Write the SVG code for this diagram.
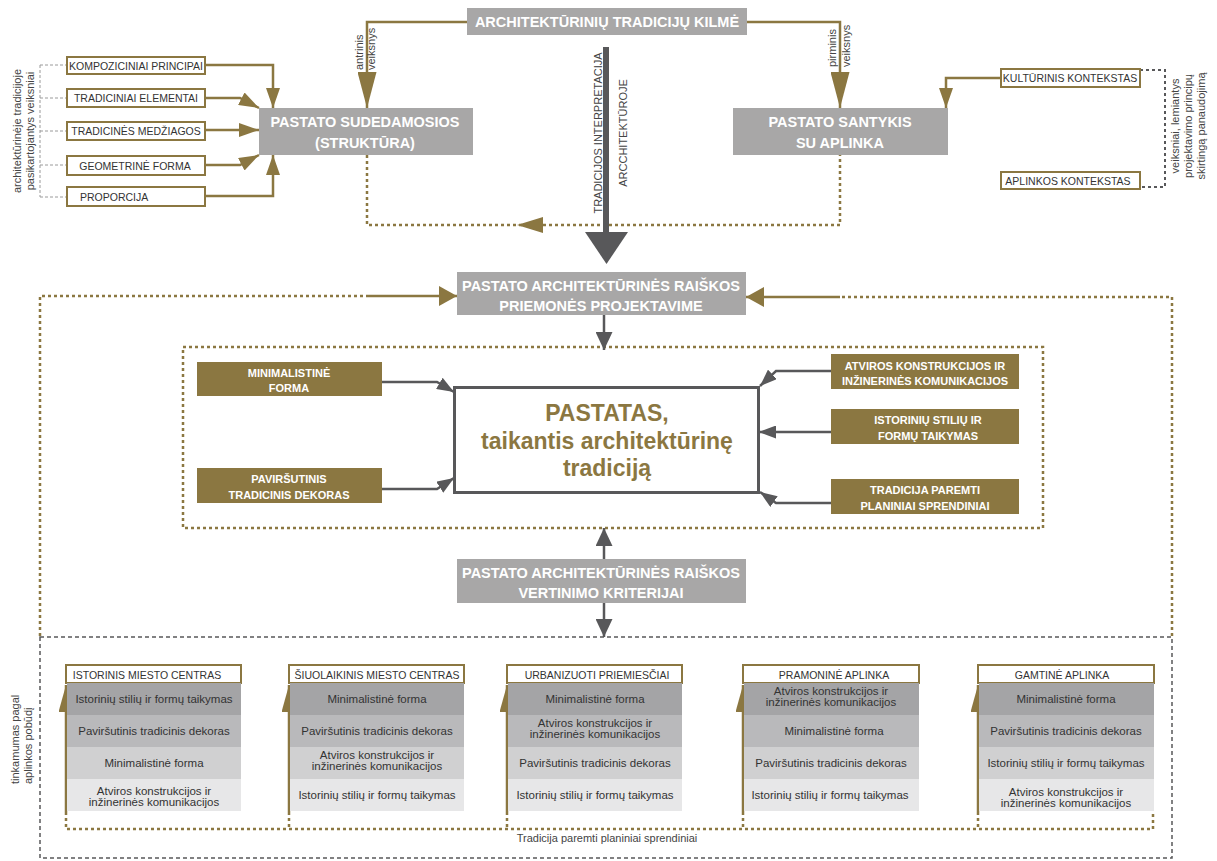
<svg xmlns="http://www.w3.org/2000/svg" width="1217" height="861" viewBox="0 0 1217 861">
<defs>
<style>
text{font-family:"Liberation Sans",Arial,sans-serif}
.gb{fill:#a8a7a7}
.gt{font-weight:bold;font-size:14.5px;fill:#fff;text-anchor:middle}
.au{fill:#8b7741}
.aut{font-weight:bold;font-size:11px;fill:#fff;text-anchor:middle}
.ob{fill:#fff;stroke:#8b7741;stroke-width:2}
.ot{font-size:10.5px;fill:#333}
.rt{font-size:11.5px;fill:#333;text-anchor:middle}
.vt{font-size:11px;fill:#444}
.ln{fill:none;stroke:#8b7741;stroke-width:2.5}
.ld{fill:none;stroke:#58585a;stroke-width:2.5}
.dg{fill:none;stroke:#8b7741;stroke-width:2.5;stroke-dasharray:3 3}
.dk{fill:none;stroke:#58585a;stroke-width:1.5;stroke-dasharray:4 3}
.dl{fill:none;stroke:#9a9a9a;stroke-width:1;stroke-dasharray:3 2}
.r1{fill:#a4a4a6}.r2{fill:#b9b9bb}.r3{fill:#d0d0d1}.r4{fill:#e7e7e8}
</style>
<marker id="mg" markerUnits="userSpaceOnUse" markerWidth="20" markerHeight="14" refX="20" refY="7" orient="auto"><path d="M0,0 L20,7 L0,14 z" fill="#8b7741"/></marker>
<marker id="mgL" markerUnits="userSpaceOnUse" markerWidth="36" markerHeight="19" refX="36" refY="9.5" orient="auto"><path d="M0,0 L36,9.5 L0,19 z" fill="#8b7741"/></marker>
<marker id="mgM" markerUnits="userSpaceOnUse" markerWidth="18" markerHeight="20" refX="18" refY="10" orient="auto"><path d="M0,0 L18,10 L0,20 z" fill="#8b7741"/></marker>
<marker id="mgC" markerUnits="userSpaceOnUse" markerWidth="27" markerHeight="15" refX="27" refY="7.5" orient="auto"><path d="M0,0 L27,7.5 L0,15 z" fill="#8b7741"/></marker>
<marker id="md" markerUnits="userSpaceOnUse" markerWidth="18" markerHeight="17" refX="18" refY="8.5" orient="auto"><path d="M0,0 L18,8.5 L0,17 z" fill="#58585a"/></marker>
<marker id="mds" markerUnits="userSpaceOnUse" markerWidth="17" markerHeight="13" refX="17" refY="6.5" orient="auto"><path d="M0,0 L17,6.5 L0,13 z" fill="#58585a"/></marker>
</defs>
<rect width="1217" height="861" fill="#fff"/>

<g id="connectors">
  <path class="dl" d="M40,65 V197 M40,65 H67 M40,98 H67 M40,131 H67 M40,165 H67 M40,197 H67"/>
  <path d="M1140,70 H1165 V187 H1140" fill="none" stroke="#58585a" stroke-width="2" stroke-dasharray="3 3"/>
  <path class="ln" d="M205,65 H273 V108" marker-end="url(#mg)"/>
  <path class="ln" d="M205,98 H240 L259,108" marker-end="url(#mg)"/>
  <path class="ln" d="M205,130 H259" marker-end="url(#mg)"/>
  <path class="ln" d="M205,165 H240 L259,155" marker-end="url(#mg)"/>
  <path class="ln" d="M205,196 H273 V155" marker-end="url(#mg)"/>
  <path class="ln" d="M1001,78 H946 V108" marker-end="url(#mg)"/>
  <path class="ln" stroke-width="3" d="M467,22 H367 V108" marker-end="url(#mgL)"/>
  <path class="ln" stroke-width="3" d="M747,22 H840 V108" marker-end="url(#mgL)"/>
  <path class="dg" stroke-width="3" d="M367,155 V225 H840 V155"/>
  <polygon points="517,225 543,217 543,233" fill="#8b7741"/>
  <rect x="603" y="47" width="6" height="187" fill="#58585a"/>
  <polygon points="585,232 628,232 606.5,264" fill="#58585a"/>
  <path class="dg" d="M40,636 V296 H368"/>
  <path class="ln" stroke-width="3" d="M368,296 H457" marker-end="url(#mgM)"/>
  <path class="dg" d="M1172,636 V297 H840"/>
  <path class="ln" stroke-width="3" d="M840,297 H746" marker-end="url(#mgM)"/>
  <rect class="dg" x="183" y="347" width="860" height="181"/>
  <path class="ld" d="M604,315 V350" marker-end="url(#md)"/>
  <path class="ld" stroke-width="2" d="M382,382 H437 L454,392" marker-end="url(#mds)"/>
  <path class="ld" stroke-width="2" d="M382,489 H437 L454,478" marker-end="url(#mds)"/>
  <path class="ld" stroke-width="2" d="M831,371 H776 L760,386" marker-end="url(#mds)"/>
  <path class="ld" stroke-width="2" d="M831,432 H759" marker-end="url(#mds)"/>
  <path class="ld" stroke-width="2" d="M831,503 H776 L760,492" marker-end="url(#mds)"/>
  <path class="ld" d="M604,559 V528" marker-end="url(#md)"/>
  <path class="ld" d="M604,603 V637" marker-end="url(#md)"/>
  <rect class="dk" x="40" y="637" width="1132" height="221"/>
  <path class="dg" stroke-width="2" d="M66,812 V829 H1153 V812 M289,812 V829 M507,812 V829 M743,812 V829 M978,812 V829"/>
  <path class="ln" d="M66,812 V685" marker-end="url(#mgC)"/>
  <path class="ln" d="M289,812 V685" marker-end="url(#mgC)"/>
  <path class="ln" d="M507,812 V685" marker-end="url(#mgC)"/>
  <path class="ln" d="M743,812 V685" marker-end="url(#mgC)"/>
  <path class="ln" d="M978,812 V685" marker-end="url(#mgC)"/>
</g>

<g id="labels">
  <text class="vt" font-size="11.5" text-anchor="middle" transform="translate(21,131) rotate(-90)">architektūrinėje tradicijoje</text>
  <text class="vt" font-size="11.5" text-anchor="middle" transform="translate(34,131) rotate(-90)">pasikartojantys veiksniai</text>
  <text class="vt" font-size="12" transform="translate(363,70) rotate(-90)">antrinis</text>
  <text class="vt" font-size="12" transform="translate(375,70) rotate(-90)">veiksnys</text>
  <text class="vt" font-size="12" transform="translate(836,67) rotate(-90)">pirminis</text>
  <text class="vt" font-size="12" transform="translate(850,67) rotate(-90)">veiksnys</text>
  <text class="vt" text-anchor="middle" transform="translate(602,133) rotate(-90)">TRADICIJOS INTERPRETACIJA</text>
  <text class="vt" text-anchor="middle" transform="translate(627,133) rotate(-90)">ARCCHITEKTŪROJE</text>
  <text class="vt" text-anchor="middle" transform="translate(1179,126) rotate(-90)">veiksniai, lemiantys</text>
  <text class="vt" text-anchor="middle" transform="translate(1192,126) rotate(-90)">projektavimo principų</text>
  <text class="vt" text-anchor="middle" transform="translate(1205,126) rotate(-90)">skirtingą panaudojimą</text>
  <text class="vt" font-size="11.5" transform="translate(19,784) rotate(-90)">tinkamumas pagal</text>
  <text class="vt" font-size="11.5" transform="translate(32,784) rotate(-90)">aplinkos pobūdį</text>
  <text class="vt" text-anchor="middle" x="607" y="842">Tradicija paremti planiniai sprendiniai</text>
</g>

<g id="n-kilme"><rect class="gb" x="467" y="8" width="280" height="27"/><text class="gt" x="607" y="27">ARCHITEKTŪRINIŲ TRADICIJŲ KILMĖ</text></g>
<g id="n-sudedamosios"><rect class="gb" x="259" y="108" width="214" height="47"/><text class="gt" x="365" y="127">PASTATO SUDEDAMOSIOS</text><text class="gt" x="365" y="148">(STRUKTŪRA)</text></g>
<g id="n-santykis"><rect class="gb" x="733" y="108" width="215" height="47"/><text class="gt" x="840" y="127">PASTATO SANTYKIS</text><text class="gt" x="840" y="148">SU APLINKA</text></g>

<g id="n-kompoziciniai"><rect class="ob" x="67" y="57" width="138" height="17"/><text class="ot" x="136" y="69.5" text-anchor="middle">KOMPOZICINIAI PRINCIPAI</text></g>
<g id="n-elementai"><rect class="ob" x="67" y="89" width="138" height="18"/><text class="ot" x="136" y="102" text-anchor="middle">TRADICINIAI ELEMENTAI</text></g>
<g id="n-medziagos"><rect class="ob" x="67" y="122" width="138" height="18"/><text class="ot" x="136" y="135" text-anchor="middle">TRADICINĖS MEDŽIAGOS</text></g>
<g id="n-geometrine"><rect class="ob" x="67" y="156" width="138" height="19"/><text class="ot" x="135" y="169.5" text-anchor="middle">GEOMETRINĖ FORMA</text></g>
<g id="n-proporcija"><rect class="ob" x="67" y="187" width="138" height="19"/><text class="ot" x="80" y="201">PROPORCIJA</text></g>

<g id="n-kulturinis"><rect class="ob" x="1001" y="69" width="139" height="18"/><text class="ot" x="1070" y="82" text-anchor="middle">KULTŪRINIS KONTEKSTAS</text></g>
<g id="n-aplinkos"><rect class="ob" x="1001" y="172" width="139" height="17"/><text class="ot" x="1068" y="184.5" text-anchor="middle">APLINKOS KONTEKSTAS</text></g>

<g id="n-priemones"><rect class="gb" x="457" y="272" width="289" height="43"/><text class="gt" x="601" y="291">PASTATO ARCHITEKTŪRINĖS RAIŠKOS</text><text class="gt" x="601" y="311">PRIEMONĖS PROJEKTAVIME</text></g>

<g id="n-pastatas"><rect x="454.5" y="387.5" width="304" height="105" fill="#fff" stroke="#58585a" stroke-width="3"/>
<text x="607" y="421" text-anchor="middle" font-weight="bold" font-size="23" fill="#8b7741">PASTATAS,</text>
<text x="607" y="449" text-anchor="middle" font-weight="bold" font-size="23" fill="#8b7741">taikantis architektūrinę</text>
<text x="607" y="476" text-anchor="middle" font-weight="bold" font-size="23" fill="#8b7741">tradiciją</text></g>

<g id="n-minimalistine"><rect class="au" x="197" y="362" width="185" height="34"/><text class="aut" x="289" y="377">MINIMALISTINĖ</text><text class="aut" x="289" y="392">FORMA</text></g>
<g id="n-pavirsutinis"><rect class="au" x="197" y="468" width="185" height="35"/><text class="aut" x="289" y="483">PAVIRŠUTINIS</text><text class="aut" x="289" y="499">TRADICINIS DEKORAS</text></g>
<g id="n-atviros"><rect class="au" x="831" y="354" width="188" height="35"/><text class="aut" x="925" y="369.5">ATVIROS KONSTRUKCIJOS IR</text><text class="aut" x="925" y="385">INŽINERINĖS KOMUNIKACIJOS</text></g>
<g id="n-istoriniu"><rect class="au" x="831" y="409" width="188" height="35"/><text class="aut" x="928" y="424">ISTORINIŲ STILIŲ IR</text><text class="aut" x="928" y="440">FORMŲ TAIKYMAS</text></g>
<g id="n-tradicija"><rect class="au" x="831" y="479" width="188" height="35"/><text class="aut" x="925" y="494">TRADICIJA PAREMTI</text><text class="aut" x="925" y="510">PLANINIAI SPRENDINIAI</text></g>

<g id="n-vertinimo"><rect class="gb" x="457" y="559" width="289" height="44"/><text class="gt" x="601" y="578">PASTATO ARCHITEKTŪRINĖS RAIŠKOS</text><text class="gt" x="601" y="598">VERTINIMO KRITERIJAI</text></g>

<g id="n-col1">
<rect class="ob" x="66" y="665" width="175" height="18"/><text class="ot" x="147" y="678.5" text-anchor="middle">ISTORINIS MIESTO CENTRAS</text>
<rect class="r1" x="67" y="683" width="174" height="32"/><text class="rt" x="154" y="703">Istorinių stilių ir formų taikymas</text>
<rect class="r2" x="67" y="715" width="174" height="32"/><text class="rt" x="154" y="735">Paviršutinis tradicinis dekoras</text>
<rect class="r3" x="67" y="747" width="174" height="32"/><text class="rt" x="154" y="767">Minimalistinė forma</text>
<rect class="r4" x="67" y="779" width="174" height="32"/><text class="rt" x="154" y="795">Atviros konstrukcijos ir</text><text class="rt" x="154" y="806">inžinerinės komunikacijos</text>
</g>
<g id="n-col2">
<rect class="ob" x="289" y="665" width="175" height="18"/><text class="ot" x="377" y="678.5" text-anchor="middle">ŠIUOLAIKINIS MIESTO CENTRAS</text>
<rect class="r1" x="290" y="683" width="174" height="32"/><text class="rt" x="377" y="703">Minimalistinė forma</text>
<rect class="r2" x="290" y="715" width="174" height="32"/><text class="rt" x="377" y="735">Paviršutinis tradicinis dekoras</text>
<rect class="r3" x="290" y="747" width="174" height="32"/><text class="rt" x="377" y="759">Atviros konstrukcijos ir</text><text class="rt" x="377" y="770">inžinerinės komunikacijos</text>
<rect class="r4" x="290" y="779" width="174" height="32"/><text class="rt" x="377" y="799">Istorinių stilių ir formų taikymas</text>
</g>
<g id="n-col3">
<rect class="ob" x="507" y="665" width="175" height="18"/><text class="ot" x="597" y="678.5" text-anchor="middle">URBANIZUOTI PRIEMIESČIAI</text>
<rect class="r1" x="508" y="683" width="174" height="32"/><text class="rt" x="595" y="703">Minimalistinė forma</text>
<rect class="r2" x="508" y="715" width="174" height="32"/><text class="rt" x="595" y="727">Atviros konstrukcijos ir</text><text class="rt" x="595" y="738">inžinerinės komunikacijos</text>
<rect class="r3" x="508" y="747" width="174" height="32"/><text class="rt" x="595" y="767">Paviršutinis tradicinis dekoras</text>
<rect class="r4" x="508" y="779" width="174" height="32"/><text class="rt" x="595" y="799">Istorinių stilių ir formų taikymas</text>
</g>
<g id="n-col4">
<rect class="ob" x="743" y="665" width="176" height="18"/><text class="ot" x="834" y="678.5" text-anchor="middle">PRAMONINĖ APLINKA</text>
<rect class="r1" x="744" y="683" width="175" height="32"/><text class="rt" x="831" y="695">Atviros konstrukcijos ir</text><text class="rt" x="831" y="706">inžinerinės komunikacijos</text>
<rect class="r2" x="744" y="715" width="175" height="32"/><text class="rt" x="834" y="735">Minimalistinė forma</text>
<rect class="r3" x="744" y="747" width="175" height="32"/><text class="rt" x="831" y="767">Paviršutinis tradicinis dekoras</text>
<rect class="r4" x="744" y="779" width="175" height="32"/><text class="rt" x="830" y="799">Istorinių stilių ir formų taikymas</text>
</g>
<g id="n-col5">
<rect class="ob" x="978" y="665" width="176" height="18"/><text class="ot" x="1062" y="678.5" text-anchor="middle">GAMTINĖ APLINKA</text>
<rect class="r1" x="979" y="683" width="175" height="32"/><text class="rt" x="1066" y="703">Minimalistinė forma</text>
<rect class="r2" x="979" y="715" width="175" height="32"/><text class="rt" x="1066" y="735">Paviršutinis tradicinis dekoras</text>
<rect class="r3" x="979" y="747" width="175" height="32"/><text class="rt" x="1066" y="767">Istorinių stilių ir formų taikymas</text>
<rect class="r4" x="979" y="779" width="175" height="32"/><text class="rt" x="1066" y="796">Atviros konstrukcijos ir</text><text class="rt" x="1066" y="807">inžinerinės komunikacijos</text>
</g>
</svg>
